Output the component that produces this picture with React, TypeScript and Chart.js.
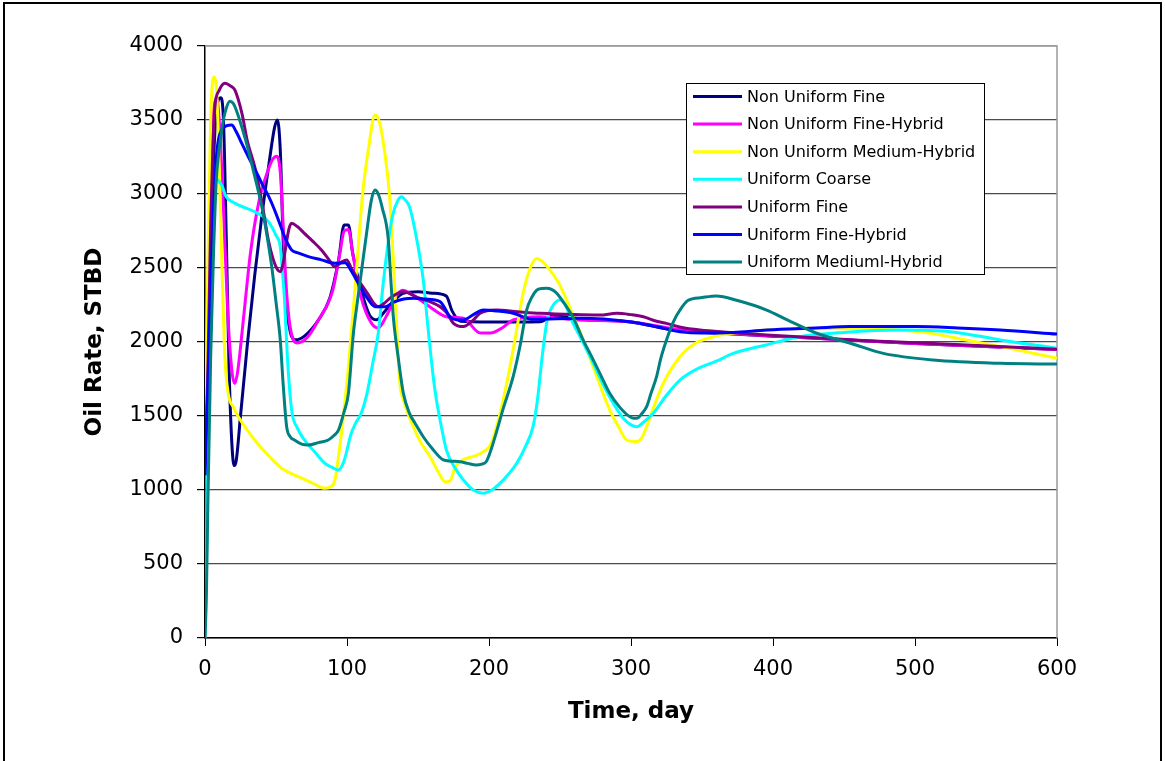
import React, { useEffect, useRef } from "react";
import { Chart, registerables } from "chart.js";

Chart.register(...registerables);

const seriesNames = [
  "Non Uniform Fine",
  "Non Uniform Fine-Hybrid",
  "Non Uniform Medium-Hybrid",
  "Uniform Coarse",
  "Uniform Fine",
  "Uniform Fine-Hybrid",
  "Uniform Mediuml-Hybrid",
];
const seriesColors = ["#000080", "#FF00FF", "#FFFF00", "#00FFFF", "#800080", "#0000FF", "#008080"];

const xTicks = [0, 100, 200, 300, 400, 500, 600];
const yTicks = [0, 500, 1000, 1500, 2000, 2500, 3000, 3500, 4000];

const nufDays = [0, 2, 5, 8, 11, 13, 15, 17, 19, 20.5, 22, 25, 30, 35, 40, 45, 49, 51, 53, 55, 57, 60, 64, 70, 80, 88, 94, 98, 101, 104, 110, 116, 121, 126, 133, 140, 150, 160, 170, 174, 180, 200, 236, 245, 270, 300, 330, 360, 420, 500, 600];
const nufRate = [1100, 2000, 3000, 3550, 3650, 3500, 2700, 1800, 1300, 1165, 1200, 1500, 2000, 2450, 2850, 3200, 3450, 3500, 3300, 2700, 2300, 2070, 2015, 2040, 2150, 2300, 2550, 2790, 2790, 2600, 2350, 2180, 2150, 2200, 2280, 2330, 2340, 2330, 2310, 2210, 2140, 2135, 2137, 2175, 2150, 2135, 2080, 2060, 2030, 1990, 1950];

const nufhDays = [0, 2, 4, 6, 8, 10, 13, 16, 19, 21, 23, 27, 32, 38, 44, 48, 50.5, 53, 55, 57, 60, 65, 72, 80, 90, 95, 98, 101, 104, 110, 117, 122, 128, 134, 139, 146, 158, 170, 182, 194, 201, 210, 217, 236, 260, 300, 330, 360, 420, 500, 600];
const nufhRate = [1200, 2200, 3200, 3550, 3650, 3500, 2900, 2200, 1800, 1720, 1800, 2150, 2600, 2950, 3150, 3240, 3255, 3150, 2800, 2400, 2100, 1993, 2030, 2150, 2350, 2600, 2750, 2760, 2600, 2300, 2130, 2095, 2180, 2300, 2350, 2320, 2240, 2171, 2160, 2060, 2060, 2100, 2149, 2171, 2150, 2135, 2090, 2065, 2030, 1990, 1950];

const numhDays = [0, 2, 4, 6, 8, 10, 12, 14, 16.4, 20, 23.5, 35, 45, 54, 65.7, 75, 84.5, 88, 91.5, 95, 98, 101, 106, 111, 115, 119.7, 123, 127, 130, 134, 137, 140, 146.7, 152, 158.5, 165, 169, 172.5, 176, 180, 190, 196, 201, 206, 212.5, 218, 224, 229, 233.6, 238, 243, 249, 254.7, 260, 266.4, 275, 285, 291, 297, 304, 308, 311, 316, 322.7, 334.5, 345, 360, 372, 400, 419, 450, 489, 510, 536, 570, 600];
const numhRate = [1200, 2500, 3500, 3790, 3720, 3200, 2500, 1900, 1650, 1560, 1495, 1338, 1230, 1147, 1090, 1050, 1011, 1020, 1068, 1300, 1550, 1833, 2400, 3000, 3297, 3534, 3480, 3250, 2982, 2300, 1743, 1600, 1428, 1320, 1225, 1110, 1056, 1060, 1150, 1195, 1230, 1259, 1304, 1450, 1721, 2000, 2329, 2500, 2565, 2540, 2486, 2400, 2284, 2160, 2014, 1790, 1541, 1430, 1338, 1327, 1360, 1428, 1560, 1721, 1900, 1990, 2040, 2059, 2085, 2093, 2090, 2081, 2060, 2014, 1950, 1890];

const ucDays = [0, 1, 2, 4, 6, 8, 11.7, 15, 18.8, 25, 35, 42, 47, 50, 53, 55, 56, 58, 61, 65, 70, 77, 84.5, 90, 94, 98, 103, 106, 110, 114, 118, 122, 125, 128, 132, 136, 138.5, 141, 144, 148, 153.7, 157, 161, 163, 166, 170, 176, 182, 189, 196, 202, 207.7, 214, 219.5, 226, 231, 234, 238, 241, 244, 250, 254, 257, 265, 273.5, 280, 287.5, 295, 300, 304, 309, 315.7, 325, 334.5, 345, 360, 372, 395, 419, 450, 489, 525, 560, 600];
const ucRate = [0, 500, 1200, 2200, 2900, 3100, 3060, 2980, 2950, 2920, 2880, 2840, 2779, 2720, 2644, 2419, 2284, 1900, 1541, 1420, 1338, 1260, 1180, 1150, 1135, 1200, 1383, 1450, 1518, 1650, 1850, 2059, 2350, 2599, 2850, 2960, 2982, 2960, 2914, 2750, 2419, 2100, 1743, 1608, 1450, 1270, 1150, 1068, 1000, 978, 1000, 1045, 1110, 1180, 1300, 1428, 1600, 1946, 2150, 2230, 2284, 2250, 2171, 2020, 1856, 1720, 1586, 1480, 1440, 1428, 1460, 1518, 1640, 1743, 1810, 1870, 1923, 1980, 2036, 2065, 2081, 2070, 2014, 1958];

const ufDays = [0, 2, 4, 5.5, 7, 10, 14, 18, 21, 26, 30, 35, 40, 44.6, 48, 51, 53, 55, 56.5, 59, 61, 65, 70, 76, 82, 87, 91.5, 96, 99.8, 103, 108, 115, 119, 122, 126, 131.5, 139.7, 150, 165.5, 170, 175, 182, 188, 193.7, 205, 220, 236, 260, 278, 290, 300, 308.7, 318, 325, 335, 348.6, 370, 395.5, 430, 466, 500, 536, 570, 600];
const ufRate = [1200, 1800, 2800, 3300, 3590, 3700, 3748, 3730, 3703, 3545, 3350, 3185, 2950, 2689, 2560, 2490, 2475, 2530, 2620, 2760, 2802, 2780, 2734, 2680, 2622, 2560, 2509, 2540, 2554, 2500, 2419, 2320, 2260, 2239, 2260, 2306, 2340, 2300, 2239, 2200, 2126, 2104, 2140, 2194, 2216, 2205, 2194, 2185, 2182, 2194, 2185, 2171, 2140, 2126, 2100, 2081, 2065, 2047, 2028, 2009, 1995, 1980, 1965, 1951];

const ufhDays = [0, 2, 4, 6, 8, 9.4, 11.7, 15, 18.8, 22, 26, 30.5, 35, 40, 45, 49, 53, 56, 58.5, 61, 66, 72.8, 82, 91.5, 98.6, 103, 108, 114, 119.7, 126.8, 133, 140, 146.7, 155, 165.5, 172.5, 177, 182, 189, 196, 205, 217, 231, 264, 299, 320, 334.5, 350, 372, 395.5, 430, 454, 501, 530, 560, 600];
const ufhRate = [1100, 1700, 2400, 2900, 3250, 3365, 3432, 3460, 3466, 3420, 3340, 3252, 3170, 3072, 2980, 2892, 2790, 2712, 2660, 2622, 2600, 2577, 2555, 2532, 2536, 2480, 2396, 2300, 2239, 2239, 2270, 2290, 2295, 2290, 2273, 2171, 2150, 2149, 2185, 2216, 2210, 2194, 2153, 2160, 2137, 2100, 2070, 2060, 2065, 2081, 2095, 2104, 2104, 2095, 2081, 2054];

const umhDays = [0, 1, 2, 4, 6, 8, 9.4, 12, 15, 17.6, 20, 22, 26, 30.5, 35, 40, 44, 47, 50, 53, 55, 57.5, 60, 63, 68, 72.8, 80, 86.8, 91, 94, 98, 101, 104.5, 107, 110, 114, 117, 119.7, 122, 125, 129, 131, 132.6, 136, 139.7, 144, 148, 153.7, 160, 167.8, 173, 179.6, 185, 191, 195, 198, 201, 205, 210, 217, 222, 226.5, 230, 233.6, 237, 240.6, 244, 247.7, 253, 259, 266, 273.5, 279, 285, 292, 299, 302, 304, 308, 311, 314, 318, 321, 325, 330, 334.5, 340, 350, 360, 375, 395.5, 410, 430.8, 455, 477.7, 513, 560, 600];
const umhRate = [0, 300, 900, 1900, 2600, 3100, 3252, 3450, 3580, 3626, 3610, 3568, 3450, 3297, 3120, 2914, 2700, 2509, 2270, 2014, 1721, 1428, 1360, 1338, 1310, 1304, 1320, 1338, 1370, 1405, 1530, 1653, 2059, 2250, 2464, 2750, 2950, 3027, 3000, 2900, 2700, 2400, 2171, 1900, 1653, 1518, 1450, 1360, 1280, 1203, 1195, 1191, 1180, 1169, 1175, 1191, 1260, 1383, 1550, 1766, 1980, 2216, 2300, 2351, 2362, 2363, 2355, 2329, 2260, 2171, 2020, 1878, 1770, 1653, 1560, 1496, 1484, 1484, 1520, 1563, 1650, 1766, 1890, 2014, 2140, 2216, 2280, 2300, 2311, 2280, 2216, 2150, 2059, 1990, 1923, 1878, 1856, 1851];

const seriesDays = [nufDays, nufhDays, numhDays, ucDays, ufDays, ufhDays, umhDays];
const seriesRates = [nufRate, nufhRate, numhRate, ucRate, ufRate, ufhRate, umhRate];

const frame = {
  id: "frame",
  beforeDraw(chart: any) {
    const { ctx, width, height } = chart;
    ctx.save();
    ctx.fillStyle = "#ffffff";
    ctx.fillRect(0, 0, width, height);
    ctx.strokeStyle = "#000000";
    ctx.lineWidth = 2;
    ctx.strokeRect(4, 3, width - 8, height + 10);
    ctx.restore();
  },
  beforeDatasetsDraw(chart: any) {
    const { ctx, chartArea } = chart;
    ctx.save();
    ctx.strokeStyle = "#9a9a9a";
    ctx.lineWidth = 1.5;
    ctx.beginPath();
    ctx.moveTo(chartArea.left, chartArea.top);
    ctx.lineTo(chartArea.right, chartArea.top);
    ctx.lineTo(chartArea.right, chartArea.bottom);
    ctx.stroke();
    ctx.restore();
  },
};

const boxLegend = {
  id: "boxLegend",
  afterDraw(chart: any) {
    const { ctx, chartArea } = chart;
    const x0 = chartArea.left + 481;
    const y0 = chartArea.top + 37;
    const w = 298;
    const h = 191;
    ctx.save();
    ctx.fillStyle = "#ffffff";
    ctx.fillRect(x0, y0, w, h);
    ctx.strokeStyle = "#000000";
    ctx.lineWidth = 1;
    ctx.strokeRect(x0 + 0.5, y0 + 0.5, w, h);
    ctx.font = '16px "DejaVu Sans"';
    ctx.textBaseline = "middle";
    ctx.textAlign = "left";
    chart.data.datasets.forEach((ds: any, i: number) => {
      const y = y0 + 13.5 + i * 27.6;
      ctx.strokeStyle = ds.borderColor;
      ctx.lineWidth = 3;
      ctx.beginPath();
      ctx.moveTo(x0 + 7, y);
      ctx.lineTo(x0 + 56, y);
      ctx.stroke();
      ctx.fillStyle = "#000000";
      ctx.fillText(ds.label, x0 + 61, y + 1);
    });
    ctx.restore();
  },
};

export default function App() {
  const ref = useRef<HTMLCanvasElement | null>(null);

  useEffect(() => {
    if (!ref.current) return;
    const datasets = seriesNames.map((name, i) => ({
      label: name,
      data: seriesDays[i].map((d, j) => ({ x: d, y: seriesRates[i][j] })),
      borderColor: seriesColors[i],
      backgroundColor: seriesColors[i],
      borderWidth: 3,
      pointRadius: 0,
      fill: false,
      cubicInterpolationMode: "monotone" as const,
      order: seriesNames.length - i,
    }));
    const chart = new Chart(ref.current, {
      type: "line",
      data: { datasets },
      plugins: [frame, boxLegend],
      options: {
        animation: false,
        responsive: false,
        devicePixelRatio: 1,
        layout: { padding: { left: 0, top: 46, right: 108, bottom: 0 } },
        plugins: {
          legend: { display: false },
          tooltip: { enabled: false },
          title: { display: false },
        },
        scales: {
          x: {
            type: "linear",
            min: 0,
            max: 600,
            afterBuildTicks: (scale: any) => {
              scale.ticks = xTicks.map((v) => ({ value: v }));
            },
            afterFit: (scale: any) => {
              scale.height = 123;
            },
            ticks: {
              color: "#000",
              padding: 11,
              maxRotation: 0,
              callback: (v: any) => String(v),
              font: { family: "DejaVu Sans", size: 21 },
            },
            grid: {
              drawOnChartArea: false,
              drawTicks: true,
              tickLength: 8,
              tickColor: "#000",
              color: "#000",
            },
            border: { color: "#000", width: 1.5 },
            title: {
              display: true,
              text: "Time, day",
              color: "#000",
              font: { family: "DejaVu Sans", size: 23, weight: "bold" },
              padding: { top: 0, bottom: 35 },
            },
          },
          y: {
            type: "linear",
            min: 0,
            max: 4000,
            afterBuildTicks: (scale: any) => {
              scale.ticks = yTicks.map((v) => ({ value: v }));
            },
            afterFit: (scale: any) => {
              scale.width = 205;
            },
            ticks: {
              color: "#000",
              padding: 14,
              callback: (v: any) => String(v),
              font: { family: "DejaVu Sans", size: 21 },
            },
            grid: {
              drawTicks: true,
              tickLength: 8,
              tickColor: "#000",
              color: (c: any) => (c.tick && c.tick.value === 4000 ? "#9a9a9a" : "#4a4a4a"),
              lineWidth: 1.2,
            },
            border: { color: "#000", width: 1.5 },
            title: {
              display: true,
              text: "Oil Rate, STBD",
              color: "#000",
              font: { family: "DejaVu Sans", size: 23, weight: "bold" },
              padding: { top: 81, bottom: 0 },
            },
          },
        },
      },
    });
    return () => chart.destroy();
  }, []);

  return (
    <div style={{ position: "fixed", left: 0, top: 0, width: 1165, height: 761, background: "#fff" }}>
      <canvas ref={ref} width={1165} height={761} style={{ display: "block", width: 1165, height: 761 }} />
    </div>
  );
}
